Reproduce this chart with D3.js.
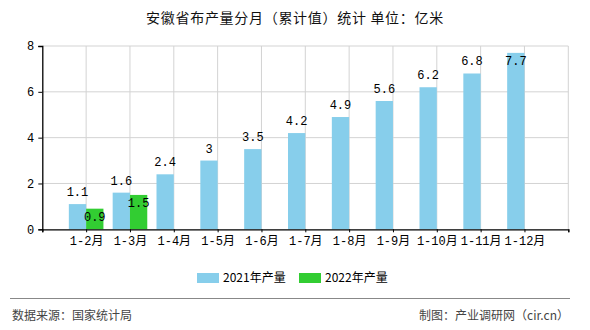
<!DOCTYPE html>
<html><head><meta charset="utf-8">
<script src="https://cdn.jsdelivr.net/npm/d3@7"></script>
<style>body{margin:0;background:#fff}svg{display:block}</style>
</head><body>
<script>
const title = "安徽省布产量分月（累计值）统计 单位：亿米";
const categories = ["1-2月","1-3月","1-4月","1-5月","1-6月","1-7月","1-8月","1-9月","1-10月","1-11月","1-12月"];
const series2021 = [1.1,1.6,2.4,3,3.5,4.2,4.9,5.6,6.2,6.8,7.7];
const series2022 = [0.9,1.5];
const seriesNames = ["2021年产量","2022年产量"];
const seriesColors = ["#87CEEB","#32CD32"];
const yTicks = [0,2,4,6,8];
const sourceText = "数据来源：国家统计局";
const creditText = "制图：产业调研网（cir.cn）";

const W=590,H=330;
const svg=d3.select("body").append("svg").attr("width",W).attr("height",H);
const monoFont='"Liberation Mono","Noto Sans CJK SC",monospace';
const cjkFont='"Noto Sans CJK SC","Noto Sans",sans-serif';

const pL=42.3,pR=568.3,pT=46,pB=229.3;
const domain=["__s"].concat(categories,["__e"]);
const x=d3.scalePoint().domain(domain).range([pL,pR]);
const y=d3.scaleLinear().domain([0,8]).range([pB,pT]);
const bw=17.3;

svg.append("text").attr("x",W/2).attr("y",23).attr("text-anchor","middle")
  .attr("font-family",cjkFont).attr("font-size",14).attr("letter-spacing","0.7px")
  .attr("fill","#111").text(title);

// grid
svg.append("g").selectAll("line").data(yTicks.slice(1)).join("line")
  .attr("x1",pL).attr("x2",pR).attr("y1",d=>y(d)).attr("y2",d=>y(d))
  .attr("stroke","#d3d3d3").attr("stroke-width",1);
svg.append("g").selectAll("line").data(domain.slice(1)).join("line")
  .attr("x1",d=>x(d)).attr("x2",d=>x(d)).attr("y1",pT).attr("y2",pB)
  .attr("stroke","#d3d3d3").attr("stroke-width",1);

// bars
const g21=svg.append("g");
g21.selectAll("rect").data(series2021).join("rect")
  .attr("x",(d,i)=>x(categories[i])-bw).attr("width",bw)
  .attr("y",d=>y(d)).attr("height",d=>pB-y(d)).attr("fill",seriesColors[0]);
const g22=svg.append("g");
g22.selectAll("rect").data(series2022).join("rect")
  .attr("x",(d,i)=>x(categories[i])).attr("width",bw)
  .attr("y",d=>y(d)).attr("height",d=>pB-y(d)).attr("fill",seriesColors[1]);

// labels
g21.selectAll("text").data(series2021).join("text")
  .attr("x",(d,i)=>x(categories[i])-bw/2)
  .attr("y",d=>{const t=y(d)-8; return (t-10<pT)? y(d)+12.5 : t;})
  .attr("text-anchor","middle").attr("font-family",monoFont).attr("font-size",12)
  .attr("fill","#000").text(d=>d);
g22.selectAll("text").data(series2022).join("text")
  .attr("x",(d,i)=>x(categories[i])+bw/2).attr("y",d=>y(d)+12.5)
  .attr("text-anchor","middle").attr("font-family",monoFont).attr("font-size",12)
  .attr("fill","#000").text(d=>d);

// axes
const ya=svg.append("g").attr("transform",`translate(${pL},0)`)
  .call(d3.axisLeft(y).tickValues(yTicks).tickSize(4).tickPadding(4));
ya.select(".domain").attr("stroke","#000").attr("stroke-width",1.3);
ya.selectAll(".tick line").attr("stroke","#000");
ya.selectAll("text").attr("font-family",monoFont).attr("font-size",12).attr("fill","#000");

const xa=svg.append("g").attr("transform",`translate(0,${pB})`)
  .call(d3.axisBottom(x).tickSize(3).tickPadding(4).tickFormat(d=>d.startsWith("__")?"":d));
xa.select(".domain").attr("stroke","#000").attr("stroke-width",1.3);
xa.selectAll(".tick line").attr("stroke","#000");
xa.selectAll("text").attr("font-family",monoFont).attr("font-size",12).attr("fill","#000");

// legend
const lg=svg.append("g");
const lx=[197,299];
seriesNames.forEach((n,i)=>{
  lg.append("rect").attr("x",lx[i]).attr("y",273).attr("width",22).attr("height",10).attr("fill",seriesColors[i]);
  lg.append("text").attr("x",lx[i]+26).attr("y",282).attr("font-family",cjkFont)
    .attr("font-size",12).attr("fill","#000").text(n);
});

// footer
svg.append("line").attr("x1",10).attr("x2",570).attr("y1",298.5).attr("y2",298.5).attr("stroke","#888").attr("stroke-width",1);
svg.append("text").attr("x",12).attr("y",320).attr("font-family",cjkFont).attr("font-size",12).attr("fill","#444").text(sourceText);
svg.append("text").attr("x",569).attr("y",320).attr("text-anchor","end").attr("font-family",cjkFont).attr("font-size",12).attr("fill","#444").text(creditText);
</script>
</body></html>
